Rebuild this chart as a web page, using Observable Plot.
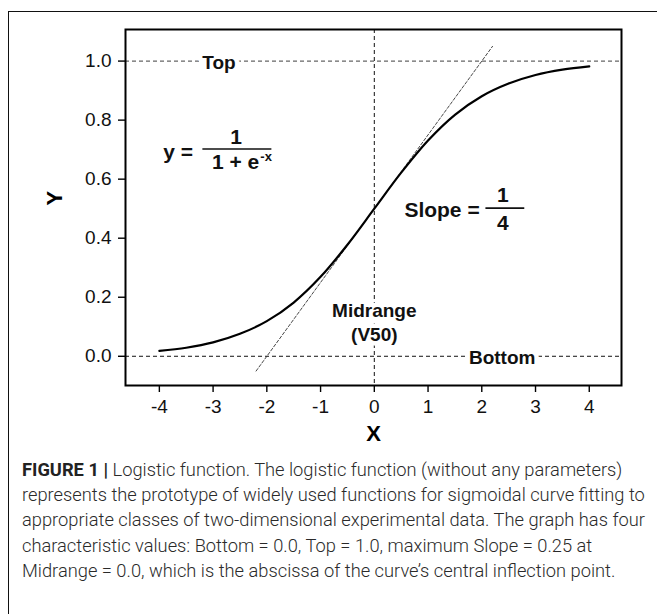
<!DOCTYPE html>
<html><head><meta charset="utf-8">
<script src="https://cdn.jsdelivr.net/npm/d3@7"></script>
<script src="https://cdn.jsdelivr.net/npm/@observablehq/plot@0.6"></script>
<style>
body{margin:0;background:#fff;width:657px;height:614px;overflow:hidden;position:relative;font-family:"Liberation Sans",Arial,sans-serif;}
#box{position:absolute;left:8px;top:11px;width:700px;height:700px;border-left:1.5px solid #111;border-top:1.5px solid #111;z-index:2;pointer-events:none;}
#chart{position:absolute;left:0;top:0;z-index:1;}
#caption{position:absolute;left:22px;top:457px;font-family:Roboto,sans-serif;font-weight:300;font-size:18.3px;line-height:25.2px;color:#2a2a2a;white-space:nowrap;}
#caption b{font-weight:700;color:#222;}
</style></head><body>
<div id="box"></div><div id="chart"></div>
<div id="caption"><b>FIGURE 1 |</b> Logistic function. The logistic function (without any parameters)<br>represents the prototype of widely used functions for sigmoidal curve fitting to<br>appropriate classes of two-dimensional experimental data. The graph has four<br>characteristic values: Bottom = 0.0, Top = 1.0, maximum Slope = 0.25 at<br>Midrange = 0.0, which is the abscissa of the curve’s central inflection point.</div>
<script>
// curve values
const curveX = [-4, -3.5, -3, -2.5, -2, -1.5, -1, -0.5, 0, 0.5, 1, 1.5, 2, 2.5, 3, 3.5, 4];
const curveY = [0.018, 0.029, 0.047, 0.076, 0.119, 0.182, 0.269, 0.378, 0.5, 0.622, 0.731, 0.818, 0.881, 0.924, 0.953, 0.971, 0.982];
// tangent line at the midrange
const tangentX = [-2.2, 2.2];
const tangentY = [-0.05, 1.05];
// axis ticks
const xTicks = [-4, -3, -2, -1, 0, 1, 2, 3, 4];
const yTicks = [0, 0.2, 0.4, 0.6, 0.8, 1.0];
// reference lines
const topLevel = [1.0];
const bottomLevel = [0.0];
const midrange = [0];
// annotation labels (with white background)
const labelText = ["Top", "Bottom", "Midrange\n(V50)"];
const labelX = [-2.89, 2.38, 0];
const labelY = [1.0, 0.0, 0.119];
// formula texts
const formulaText = ["y =", "1", "Slope =", "1", "4"];
const formulaX = [-3.65, -2.57, 1.26, 2.39, 2.39];
const formulaY = [0.692, 0.743, 0.495, 0.546, 0.451];
// fraction bars
const barX1 = [-3.19, 2.077];
const barX2 = [-1.906, 2.80];
const barY = [0.702, 0.502];
// denominator of logistic formula
const denomText = ["1 + e"];
const denomX = [-2.14];
const denomY = [0.658];
const supText = ["-x"];

const curve = curveX.map((x, i) => ({x, y: curveY[i]}));
const tangent = tangentX.map((x, i) => ({x, y: tangentY[i]}));
const labels = labelText.map((t, i) => ({t, x: labelX[i], y: labelY[i]}));
const formula = formulaText.map((t, i) => ({t, x: formulaX[i], y: formulaY[i]}));
const bars = barX1.map((x1, i) => ({x1, x2: barX2[i], y: barY[i]}));
const denom = denomText.map((t, i) => ({t, x: denomX[i], y: denomY[i]}));
const sup = supText.map((t, i) => ({t, x: denomX[i], y: denomY[i]}));

const font = "'Liberation Sans', Arial, sans-serif";
const plot = Plot.plot({
  width: 657, height: 450,
  marginLeft: 125, marginRight: 36, marginTop: 29, marginBottom: 65,
  x: {domain: [-4.63, 4.6]},
  y: {domain: [-0.099, 1.107]},
  style: {fontFamily: font, fontSize: "19px", color: "#000", background: "transparent"},
  marks: [
    Plot.ruleY(topLevel, {stroke: "#666", strokeDasharray: "4,3", strokeWidth: 1.2}),
    Plot.ruleY(bottomLevel, {stroke: "#111", strokeDasharray: "4,3", strokeWidth: 1}),
    Plot.ruleX(midrange, {stroke: "#111", strokeDasharray: "4,3", strokeWidth: 1}),
    Plot.line(tangent, {x: "x", y: "y", stroke: "#333", strokeWidth: 0.9, strokeDasharray: "3,2"}),
    Plot.line(curve, {x: "x", y: "y", curve: "catmull-rom", stroke: "#000", strokeWidth: 2.2}),
    Plot.text(labels, {x: "x", y: "y", text: "t", fontWeight: "bold", fontSize: 19, lineHeight: 1.26, fill: "#111", stroke: "white", strokeWidth: 9}),
    Plot.text(formula, {x: "x", y: "y", text: "t", fontWeight: "bold", fontSize: 21, fill: "#111"}),
    Plot.text(denom, {x: "x", y: "y", text: "t", textAnchor: "end", fontWeight: "bold", fontSize: 21, fill: "#111"}),
    Plot.text(sup, {x: "x", y: "y", text: "t", textAnchor: "start", dx: 1, dy: -5, fontWeight: "bold", fontSize: 13, fill: "#111"}),
    Plot.ruleY(bars, {x1: "x1", x2: "x2", y: "y", stroke: "#111", strokeWidth: 1.6}),
    Plot.axisX({ticks: xTicks, tickSize: 7, tickPadding: 7, fontSize: 19, strokeWidth: 1.4, label: null, fill: "#111", tickFormat: d => String(d)}),
    Plot.axisY({ticks: yTicks, tickSize: 7, tickPadding: 7, fontSize: 19, strokeWidth: 1.4, label: null, tickFormat: d3.format(".1f"), fill: "#111"}),
    Plot.frame({stroke: "#000", strokeWidth: 2}),
    Plot.text(["X"], {text: d => d, frameAnchor: "bottom", dy: 55, fontWeight: "bold", fontSize: 22}),
    Plot.text(["Y"], {text: d => d, frameAnchor: "left", dx: -71, dy: -2, rotate: -90, fontWeight: "bold", fontSize: 22})
  ]
});
document.getElementById("chart").appendChild(plot);
</script>
</body></html>
